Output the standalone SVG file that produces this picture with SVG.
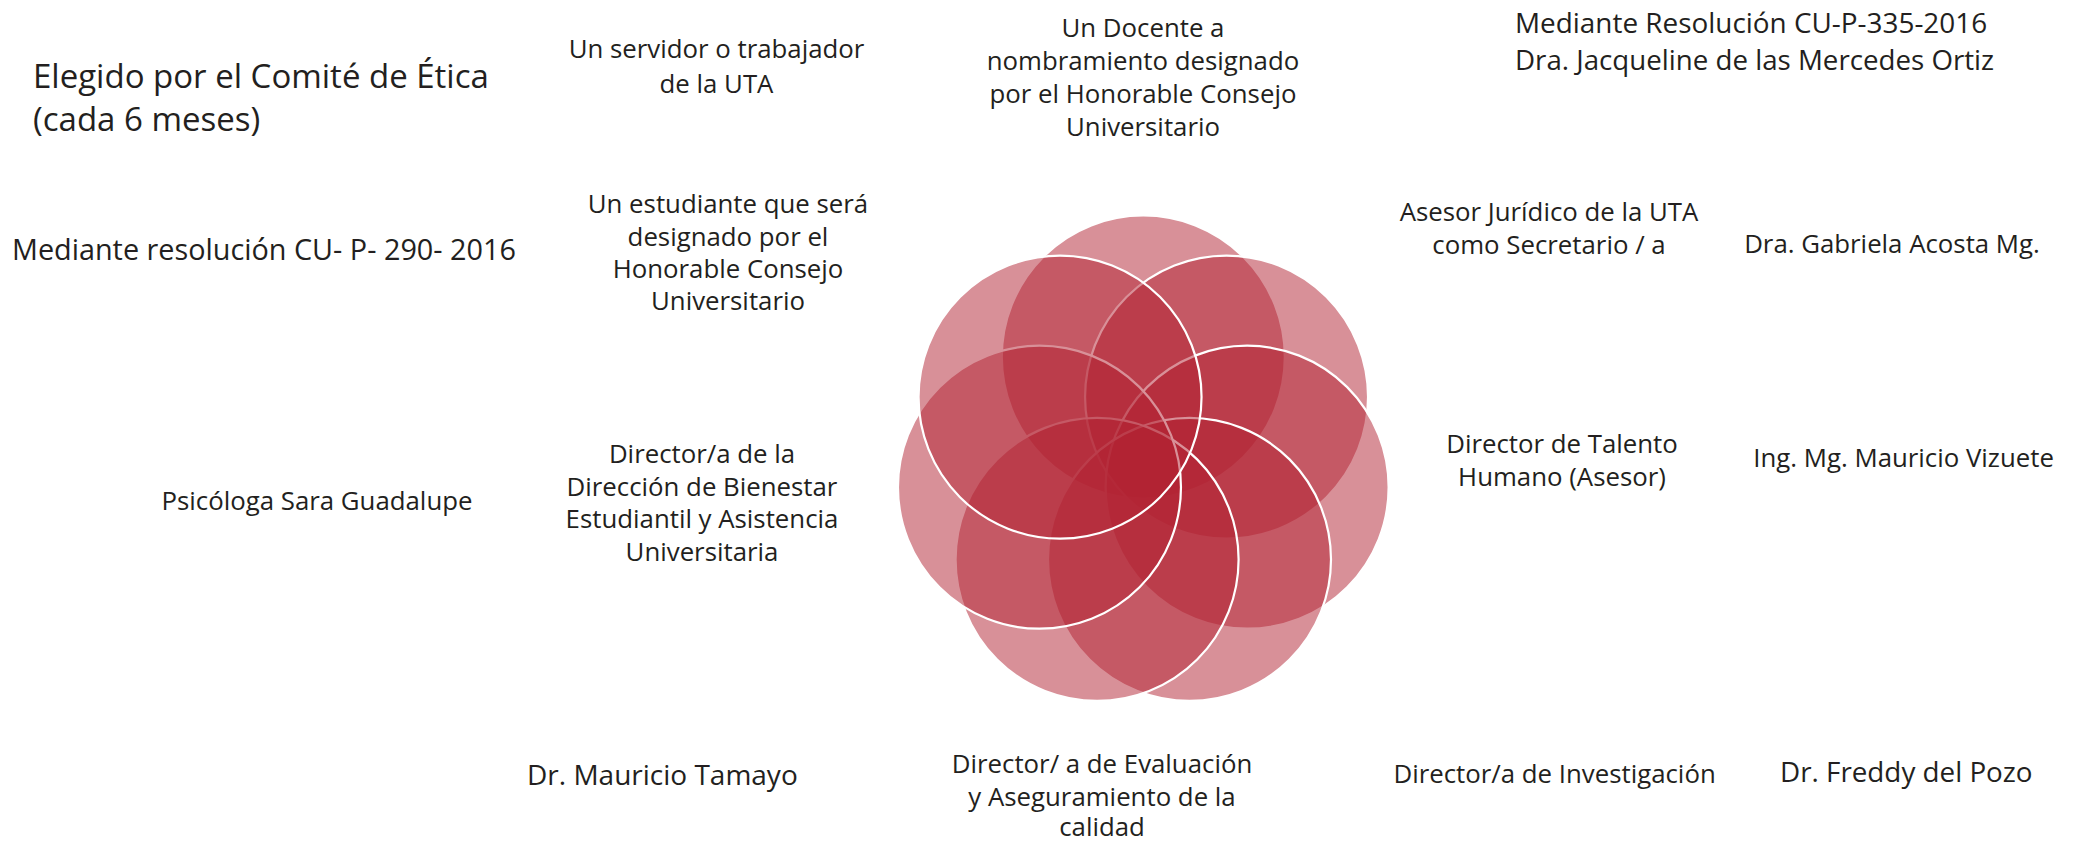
<svg xmlns="http://www.w3.org/2000/svg" width="2080" height="841" viewBox="0 0 2080 841">
<style>
.c{fill:#b22232;fill-opacity:0.5;stroke:#ffffff;stroke-width:2.2}
text{font-family:"Open Sans","Noto Sans","Liberation Sans",sans-serif;fill:#231f20}
.b{font-size:25.8px;text-anchor:middle}
.l{text-anchor:start}
</style>
<rect width="2080" height="841" fill="#ffffff"/>
<g id="rosette">
<g id="circle-1"><circle class="c" cx="1143.3" cy="357.0" r="141.5"/></g>
<g id="circle-2"><circle class="c" cx="1226.56" cy="397.10" r="141.5"/></g>
<g id="circle-3"><circle class="c" cx="1247.13" cy="487.20" r="141.5"/></g>
<g id="circle-4"><circle class="c" cx="1189.51" cy="559.45" r="141.5"/></g>
<g id="circle-5"><circle class="c" cx="1097.09" cy="559.45" r="141.5"/></g>
<g id="circle-6"><circle class="c" cx="1039.47" cy="487.20" r="141.5"/></g>
<g id="circle-7"><circle class="c" cx="1060.04" cy="397.10" r="141.5"/></g>
</g>
<g id="label-elegido"><text class="l" x="33" y="87.5" font-size="33px">Elegido por el Comité de Ética</text><text class="l" x="33" y="130.5" font-size="33px">(cada 6 meses)</text></g>
<g id="label-servidor"><text class="b" x="716.5" y="58">Un servidor o trabajador</text><text class="b" x="716.5" y="93">de la UTA</text></g>
<g id="label-docente"><text class="b" x="1143" y="37.3">Un Docente a</text><text class="b" x="1143" y="70.3">nombramiento designado</text><text class="b" x="1143" y="103.3">por el Honorable Consejo</text><text class="b" x="1143" y="136.3">Universitario</text></g>
<g id="label-resolucion-335"><text class="l" x="1515" y="33" font-size="27.9px">Mediante Resolución CU-P-335-2016</text><text class="l" x="1515" y="70" font-size="27.7px">Dra. Jacqueline de las Mercedes Ortiz</text></g>
<g id="label-resolucion-290"><text class="l" x="12" y="260" font-size="28.8px">Mediante resolución CU- P- 290- 2016</text></g>
<g id="label-estudiante"><text class="b" x="728" y="213.3">Un estudiante que será</text><text class="b" x="728" y="245.6">designado por el</text><text class="b" x="728" y="277.9">Honorable Consejo</text><text class="b" x="728" y="310.2">Universitario</text></g>
<g id="label-asesor"><text class="b" x="1549" y="220.7">Asesor Jurídico de la UTA</text><text class="b" x="1549" y="254">como Secretario / a</text></g>
<g id="label-acosta"><text class="b" x="1892" y="253">Dra. Gabriela Acosta Mg.</text></g>
<g id="label-bienestar"><text class="b" x="702" y="463.3">Director/a de la</text><text class="b" x="702" y="495.8">Dirección de Bienestar</text><text class="b" x="702" y="528.3">Estudiantil y Asistencia</text><text class="b" x="702" y="560.8">Universitaria</text></g>
<g id="label-psicologa"><text class="b" x="317" y="510">Psicóloga Sara Guadalupe</text></g>
<g id="label-talento"><text class="b" x="1562" y="453.3">Director de Talento</text><text class="b" x="1562" y="486">Humano (Asesor)</text></g>
<g id="label-vizuete"><text class="b" x="1903.6" y="466.7">Ing. Mg. Mauricio Vizuete</text></g>
<g id="label-evaluacion"><text class="b" x="1102" y="773.3">Director/ a de Evaluación</text><text class="b" x="1102" y="806">y Aseguramiento de la</text><text class="b" x="1102" y="835.5">calidad</text></g>
<g id="label-investigacion"><text class="b" x="1554.6" y="782.7">Director/a de Investigación</text></g>
<g id="label-tamayo"><text class="l" x="527" y="785" font-size="28px">Dr. Mauricio Tamayo</text></g>
<g id="label-pozo"><text class="l" x="1780" y="782" font-size="27.8px">Dr. Freddy del Pozo</text></g>
</svg>
